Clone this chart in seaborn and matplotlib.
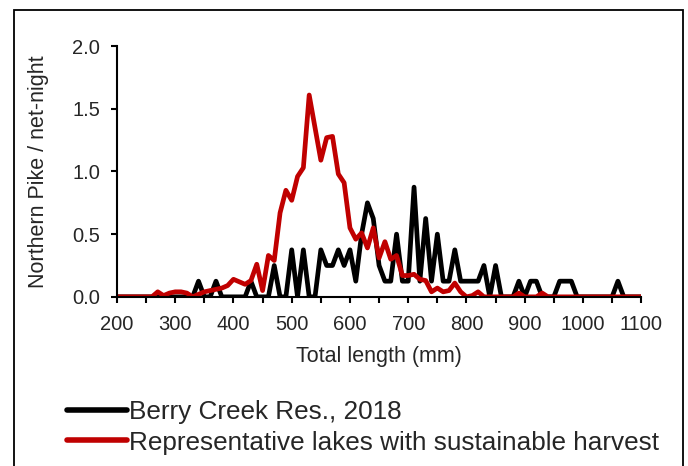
import numpy as np
import pandas as pd
import matplotlib.pyplot as plt
import seaborn as sns
from matplotlib.patches import Rectangle
from matplotlib.ticker import MultipleLocator

sns.set_style("ticks")
plt.rcParams['font.family'] = ['Liberation Sans', 'DejaVu Sans']

# length bins (mm), 10 mm steps
length = list(range(200, 1110, 10))

# Berry Creek Res., 2018 (fish per net-night)
berry = [
    0, 0, 0, 0, 0, 0, 0, 0, 0, 0,            # 200-290
    0, 0, 0, 0, 0.125, 0, 0, 0.125, 0, 0,    # 300-390
    0, 0, 0, 0.125, 0, 0, 0, 0.25, 0, 0,     # 400-490
    0.375, 0, 0.375, 0, 0, 0.375, 0.25, 0.25, 0.375, 0.25,   # 500-590
    0.375, 0.125, 0.5, 0.75, 0.625, 0.25, 0.125, 0.125, 0.5, 0.125,  # 600-690
    0.125, 0.875, 0.125, 0.625, 0.125, 0.5, 0.125, 0.125, 0.375, 0.125,  # 700-790
    0.125, 0.125, 0.125, 0.25, 0, 0.25, 0, 0, 0, 0.125,   # 800-890
    0, 0.125, 0.125, 0, 0, 0, 0.125, 0.125, 0.125, 0,     # 900-990
    0, 0, 0, 0, 0, 0, 0.125, 0, 0, 0, 0,                  # 1000-1100
]

# Representative lakes with sustainable harvest
representative = [
    0, 0, 0, 0, 0, 0, 0, 0.04, 0.01, 0.03,          # 200-290
    0.04, 0.04, 0.03, 0.0, 0.02, 0.04, 0.05, 0.06, 0.07, 0.09,   # 300-390
    0.14, 0.12, 0.10, 0.13, 0.26, 0.05, 0.33, 0.29, 0.67, 0.85,  # 400-490
    0.77, 0.96, 1.03, 1.61, 1.35, 1.09, 1.27, 1.28, 0.98, 0.91,  # 500-590
    0.55, 0.46, 0.51, 0.39, 0.55, 0.31, 0.44, 0.30, 0.33, 0.17,  # 600-690
    0.17, 0.18, 0.14, 0.13, 0.04, 0.07, 0.04, 0.05, 0.11, 0.04,  # 700-790
    0.0, 0.01, 0.04, 0.0, 0, 0, 0, 0, 0, 0.03,      # 800-890
    0, 0, 0, 0.03, 0, 0, 0, 0, 0, 0,                # 900-990
    0, 0, 0, 0, 0, 0, 0, 0, 0, 0, 0,                # 1000-1100
]

series_names = ["Berry Creek Res., 2018",
                "Representative lakes with sustainable harvest"]
series_colors = ["#000000", "#c00000"]

df = pd.concat([
    pd.DataFrame({"length": length, "cpue": berry, "series": series_names[0]}),
    pd.DataFrame({"length": length, "cpue": representative, "series": series_names[1]}),
])

fig = plt.figure(figsize=(6.88, 4.66), dpi=100)
ax = fig.add_axes([0.170, 0.363, 0.762, 0.538])

sns.lineplot(data=df, x="length", y="cpue", hue="series",
             palette=dict(zip(series_names, series_colors)),
             linewidth=3.4, ax=ax, legend=False, estimator=None,
             solid_joinstyle="round", solid_capstyle="round")

ax.set_xlim(200, 1100)
ax.set_ylim(0, 2.0)
ax.xaxis.set_major_locator(MultipleLocator(100))
ax.xaxis.set_minor_locator(MultipleLocator(50))
ax.yaxis.set_major_locator(MultipleLocator(0.5))
ax.yaxis.set_major_formatter(plt.FormatStrFormatter('%.1f'))
ax.tick_params(axis='both', which='both', direction='out', length=4,
               width=1.5, color='black', labelsize=14.5, pad=8)
ax.tick_params(axis='x', which='major', pad=9)
for side in ['left', 'bottom']:
    ax.spines[side].set_linewidth(1.5)
    ax.spines[side].set_color('black')
sns.despine(ax=ax)

ax.set_xlabel("Total length (mm)", fontsize=15.5, labelpad=9)
ax.set_ylabel("Northern Pike / net-night", fontsize=15.5, labelpad=17)

handles = [plt.Line2D([], [], color=c, linewidth=4, solid_capstyle='round')
           for c in series_colors]
fig.legend(handles, series_names, loc='upper left', bbox_to_anchor=(0.097, 0.142),
           frameon=False, fontsize=18.8, handlelength=2.3, handletextpad=0.08,
           borderpad=0, borderaxespad=0, labelspacing=0.26)

# outer frame around the whole chart
fig.patches.append(Rectangle((14 / 688, -0.02), 669 / 688, 1.02 - 10 / 466,
                             transform=fig.transFigure, fill=False,
                             edgecolor='black', linewidth=1.3))

fig.savefig("out.png", dpi=100)
